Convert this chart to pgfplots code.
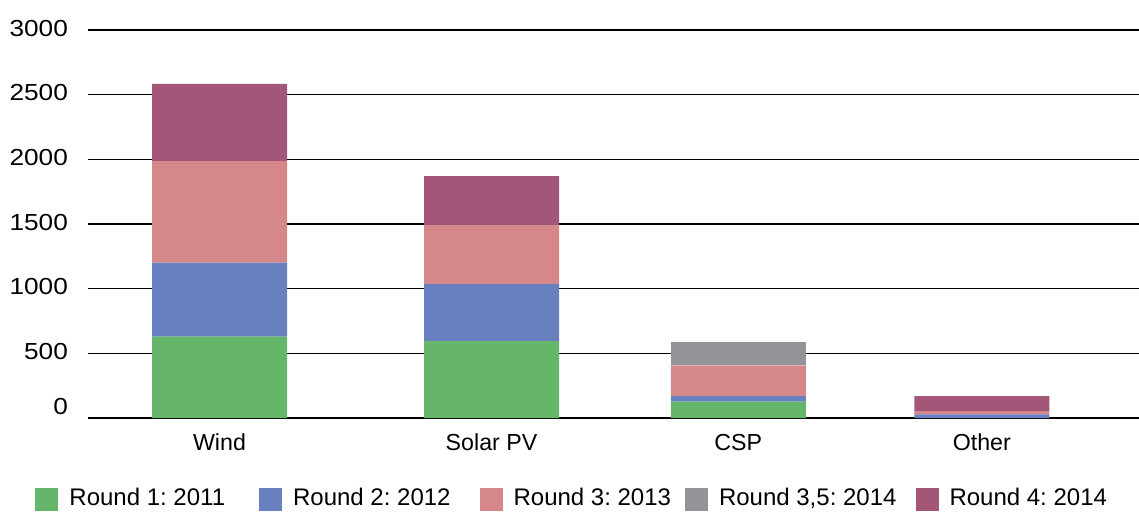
\documentclass[border=0pt]{standalone}
\usepackage{fontspec}
\setmainfont{Liberation Sans}
\usepackage{pgfplots}
\pgfplotsset{compat=1.18}

\definecolor{rOne}{HTML}{65B66B}
\definecolor{rTwo}{HTML}{6880C0}
\definecolor{rThree}{HTML}{D58789}
\definecolor{rThreeFive}{HTML}{939497}
\definecolor{rFour}{HTML}{A35678}

\pgfplotsset{sqleg/.style={legend image code/.code={\fill[##1] (0pt,-5.75pt) rectangle (11.5pt,5.75pt);}}}
\newcommand{\yl}[1]{\scalebox{1.13}[1]{#1}}

\begin{document}
\frenchspacing
\fontsize{11.6}{13.9}\selectfont
\begin{tikzpicture}
\useasboundingbox (-44pt,-46.5pt) rectangle (525.5pt,209pt);
\begin{axis}[at={(0,0)},anchor=south west,scale only axis,width=525.5pt,height=194pt,
  ybar stacked,bar width=135,
  xmin=88,xmax=1139,ymin=0,ymax=3000,enlargelimits=false,
  xtick={219.5,491.5,738.3,981.8},xticklabels={Wind,Solar PV,CSP,Other},
  ytick={0,500,1000,1500,2000,2500,3000},
  yticklabels={\raisebox{10pt}{\yl{0}},\yl{500},\yl{1000},\yl{1500},\yl{2000},\yl{2500},\yl{3000}},
  /pgf/number format/assume math mode=true,
  tick label style={font=\fontsize{11.6}{13.9}\selectfont},
  major tick length=0pt,
  axis x line*=bottom,axis y line*=left,
  x axis line style={line width=0.9pt,-},
  y axis line style={draw=none},
  ymajorgrids=true,grid style={black,line width=0.6pt},
  yticklabel style={xshift=-6pt,yshift=1pt},
  xticklabel style={yshift=-4pt},
  legend columns=5,
  legend style={draw=none,at={(-0.0561,-0.2088)},anchor=west,
    font=\fontsize{12.0}{14.4}\selectfont,
    /tikz/every odd column/.append style={column sep=3.5pt},
    /tikz/column 2/.style={column sep=15pt},
    /tikz/column 4/.style={column sep=12.5pt},
    /tikz/column 6/.style={column sep=5pt},
    /tikz/column 8/.style={column sep=7.5pt}},
  legend cell align=left]
\addplot[fill=rOne,draw=none,sqleg] coordinates {(219.5,629) (491.5,595) (738.3,126) (981.8,0)};
\addplot[fill=rTwo,draw=none,sqleg] coordinates {(219.5,572) (491.5,441) (738.3,46) (981.8,29)};
\addplot[fill=rThree,draw=none,sqleg] coordinates {(219.5,786) (491.5,451) (738.3,235) (981.8,25)};
\addplot[fill=rThreeFive,draw=none,sqleg] coordinates {(219.5,0) (491.5,0) (738.3,181) (981.8,0)};
\addplot[fill=rFour,draw=none,sqleg] coordinates {(219.5,596) (491.5,384) (738.3,0) (981.8,116)};
\legend{Round 1: 2011,Round 2: 2012,Round 3: 2013,{Round 3,5: 2014},Round 4: 2014}
\end{axis}
\end{tikzpicture}
\end{document}
